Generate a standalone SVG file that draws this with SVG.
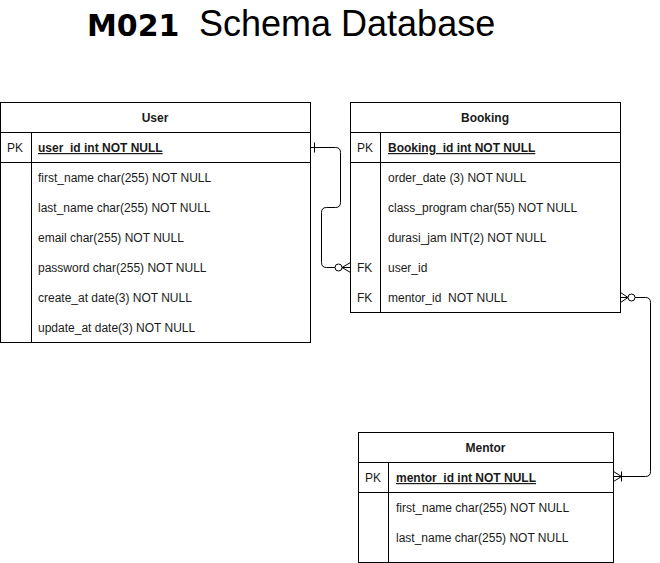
<svg xmlns="http://www.w3.org/2000/svg" width="660" height="563" viewBox="0 0 660 563">
<style>
.box{fill:#fff;stroke:#000;stroke-width:1}
.ln{fill:none;stroke:#000;stroke-width:1}
text{font-family:"Liberation Sans",Arial,sans-serif;font-size:12px;fill:#1a1a1a}
.hd{font-weight:bold;text-anchor:middle}
.pk{font-weight:bold;text-decoration:underline}
</style>
<rect width="660" height="563" fill="#fff"/>
<g id="title">
<text x="87" y="36" style="font-family:'DejaVu Sans',sans-serif;font-weight:bold;font-size:30px;fill:#000">M021</text>
<text x="199" y="36" style="font-size:36px;fill:#000">Schema Database</text>
</g>
<g id="user">
<rect class="box" x="0.5" y="102.5" width="310" height="240"/>
<line class="ln" x1="0.5" y1="132.5" x2="310.5" y2="132.5"/>
<line class="ln" x1="0.5" y1="162.5" x2="310.5" y2="162.5"/>
<line class="ln" x1="31.5" y1="132.5" x2="31.5" y2="342.5"/>
<text class="hd" x="155" y="122">User</text>
<text x="7" y="152">PK</text>
<text class="pk" x="38" y="152">user_id int NOT NULL</text>
<text x="38" y="182">first_name char(255) NOT NULL</text>
<text x="38" y="212">last_name char(255) NOT NULL</text>
<text x="38" y="242">email char(255) NOT NULL</text>
<text x="38" y="272">password char(255) NOT NULL</text>
<text x="38" y="302">create_at date(3) NOT NULL</text>
<text x="38" y="332">update_at date(3) NOT NULL</text>
</g>
<g id="booking">
<rect class="box" x="350.5" y="102.5" width="270" height="210"/>
<line class="ln" x1="350.5" y1="132.5" x2="620.5" y2="132.5"/>
<line class="ln" x1="350.5" y1="162.5" x2="620.5" y2="162.5"/>
<line class="ln" x1="380.5" y1="132.5" x2="380.5" y2="312.5"/>
<text class="hd" x="485" y="122">Booking</text>
<text x="357" y="152">PK</text>
<text class="pk" x="388" y="152">Booking_id int NOT NULL</text>
<text x="388" y="182">order_date (3) NOT NULL</text>
<text x="388" y="212">class_program char(55) NOT NULL</text>
<text x="388" y="242">durasi_jam INT(2) NOT NULL</text>
<text x="357" y="272">FK</text>
<text x="388" y="272">user_id</text>
<text x="357" y="302">FK</text>
<text x="388" y="302" xml:space="preserve" style="white-space:pre">mentor_id  NOT NULL</text>
</g>
<g id="mentor">
<rect class="box" x="358.5" y="432.5" width="255" height="130"/>
<line class="ln" x1="358.5" y1="462.5" x2="613.5" y2="462.5"/>
<line class="ln" x1="358.5" y1="492.5" x2="613.5" y2="492.5"/>
<line class="ln" x1="388.5" y1="462.5" x2="388.5" y2="562.5"/>
<text class="hd" x="485.5" y="452">Mentor</text>
<text x="365" y="482">PK</text>
<text class="pk" x="396" y="482">mentor_id int NOT NULL</text>
<text x="396" y="512">first_name char(255) NOT NULL</text>
<text x="396" y="542">last_name char(255) NOT NULL</text>
</g>
<g id="connectors">
<path class="ln" d="M310.5,147.5 L335.5,147.5 Q340.5,147.5 340.5,152.5 L340.5,202.5 Q340.5,207.5 335.5,207.5 L326.5,207.5 Q321.5,207.5 321.5,212.5 L321.5,262.5 Q321.5,267.5 326.5,267.5 L335,267.5"/>
<line class="ln" x1="314.5" y1="142.5" x2="314.5" y2="152.5"/>
<circle class="ln" cx="338.5" cy="267.5" r="3.5"/>
<path class="ln" d="M342,267.5 L350.5,267.5 M350.5,262.5 L342,267.5 L350.5,272.5"/>
<path class="ln" d="M620.5,297.5 L628,297.5 M620.5,292.5 L628,297.5 L620.5,302.5"/>
<circle class="ln" cx="631.5" cy="297.5" r="3.5"/>
<path class="ln" d="M635,297.5 L645.5,297.5 Q650.5,297.5 650.5,302.5 L650.5,471.5 Q650.5,476.5 645.5,476.5 L613.5,476.5"/>
<path class="ln" d="M613.5,471.5 L621.5,476.5 L613.5,481.5"/>
<line class="ln" x1="621.5" y1="471.5" x2="621.5" y2="481.5"/>
</g>
</svg>
